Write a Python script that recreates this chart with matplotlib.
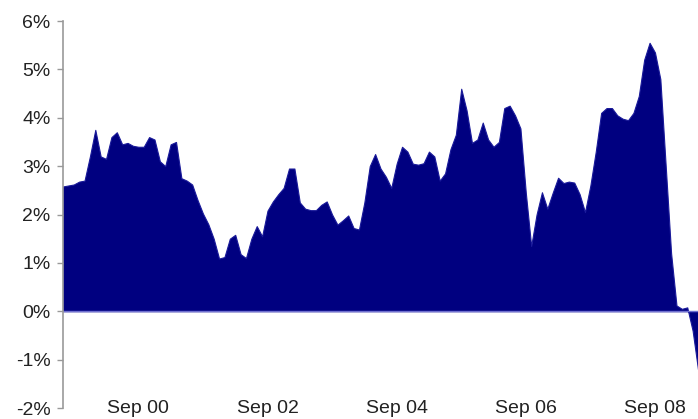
import numpy as np
import matplotlib
matplotlib.use('Agg')
import matplotlib.pyplot as plt

# monthly values, Jul 1999 .. May 2009 (%)
values = [2.58, 2.60, 2.62, 2.68, 2.70, 3.20, 3.75, 3.20, 3.15, 3.60,
          3.70, 3.45, 3.48, 3.42, 3.40, 3.40, 3.60, 3.55, 3.10, 3.00,
          3.45, 3.50, 2.75, 2.70, 2.62, 2.30, 2.02, 1.80, 1.50, 1.09,
          1.12, 1.50, 1.58, 1.18, 1.10, 1.50, 1.76, 1.55, 2.08, 2.27,
          2.42, 2.55, 2.95, 2.95, 2.25, 2.12, 2.09, 2.09, 2.20, 2.27,
          2.00, 1.79, 1.88, 1.98, 1.72, 1.69, 2.25, 3.00, 3.25, 2.95,
          2.78, 2.55, 3.05, 3.40, 3.30, 3.05, 3.03, 3.06, 3.30, 3.20,
          2.70, 2.85, 3.35, 3.65, 4.60, 4.15, 3.48, 3.55, 3.90, 3.55,
          3.40, 3.50, 4.20, 4.25, 4.05, 3.78, 2.45, 1.35, 2.00, 2.46,
          2.12, 2.45, 2.76, 2.65, 2.68, 2.66, 2.42, 2.05, 2.60, 3.30,
          4.10, 4.20, 4.20, 4.05, 3.98, 3.95, 4.10, 4.45, 5.20, 5.55,
          5.35, 4.80, 3.00, 1.20, 0.12, 0.05, 0.08, -0.40, -1.20]
tick_months = [14, 38, 62, 86, 110]
tick_labels = ['Sep 00', 'Sep 02', 'Sep 04', 'Sep 06', 'Sep 08']
y_ticks = [-2, -1, 0, 1, 2, 3, 4, 5, 6]

months = np.arange(len(values))

fig = plt.figure(figsize=(6.98, 4.19), dpi=100)
ax = fig.add_axes([63/698, 1-408/419, 1-63/698, (408-21)/419])

ax.fill_between(months, values, 0, color='#000080', linewidth=0.8, edgecolor='#1a1a9a')
ax.axhline(0, color='#7070d0', linewidth=1.0)

ax.set_xlim(0, len(values)-1)
ax.set_ylim(-2, 6)
ax.set_yticks(y_ticks)
ax.set_yticklabels(['%d%%' % v for v in y_ticks])
ax.set_xticks(tick_months)
ax.set_xticklabels(tick_labels)

for s in ['top', 'right', 'bottom']:
    ax.spines[s].set_visible(False)
ax.spines['left'].set_color('#999999')
ax.spines['left'].set_linewidth(1.2)

ax.tick_params(axis='y', length=4, width=1, color='#999999', pad=5,
               labelsize=14, labelcolor='#222222')
ax.tick_params(axis='x', length=0, pad=-6, labelsize=14, labelcolor='#222222')
for lab in ax.get_xticklabels() + ax.get_yticklabels():
    lab.set_family('Liberation Sans')

fig.savefig('out.png', dpi=100)
